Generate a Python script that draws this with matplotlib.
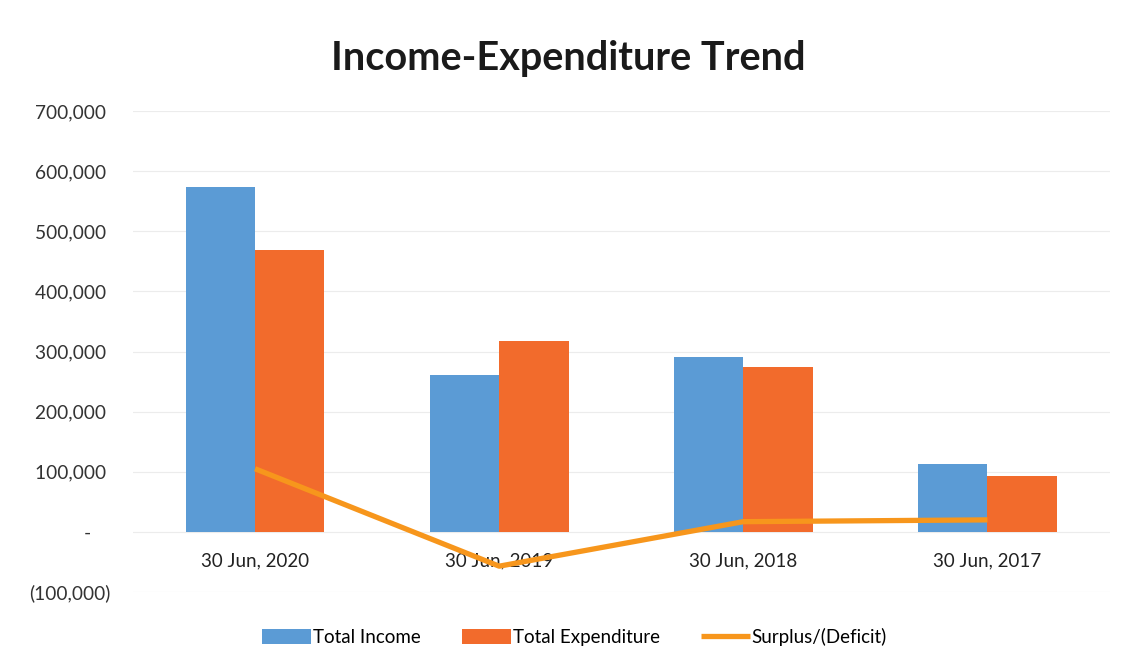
import numpy as np
import matplotlib.pyplot as plt
from matplotlib.ticker import FuncFormatter, MultipleLocator

periods = ["30 Jun, 2020", "30 Jun, 2019", "30 Jun, 2018", "30 Jun, 2017"]
income = [574000, 261000, 291000, 113000]
expenditure = [469000, 318000, 274000, 93000]
surplus = [105000, -57000, 17000, 20000]

plt.rcParams['font.family'] = ['Lato', 'DejaVu Sans']

fig = plt.figure(figsize=(11.31, 6.67), dpi=100)
ax = fig.add_axes([0.1176, 0.1124, 0.8634, 0.7212])

x = np.arange(len(periods))
w = 0.284
b1 = ax.bar(x - w / 2, income, w, color="#5B9BD5", label="Total Income", zorder=2)
b2 = ax.bar(x + w / 2, expenditure, w, color="#F26B2C", label="Total Expenditure", zorder=2)
ln, = ax.plot(x, surplus, color="#F7961C", lw=3.8, label="Surplus/(Deficit)", zorder=3,
              solid_capstyle="butt")

ax.set_xlim(-0.5, len(periods) - 0.5)
ax.set_ylim(-100000, 700000)
ax.yaxis.set_major_locator(MultipleLocator(100000))


def acct(v, pos):
    if v == 0:
        return "-    "
    if v < 0:
        return "({:,.0f})".format(-v)
    return "{:,.0f} ".format(v)


ax.yaxis.set_major_formatter(FuncFormatter(acct))
ax.grid(axis="y", color="#ececec", lw=0.8, zorder=0)
ax.set_axisbelow(True)

# category labels sit on the zero line
ax.spines['bottom'].set_position(('data', 0))
for s in ax.spines.values():
    s.set_visible(False)
ax.set_xticks(x)
ax.set_xticklabels(periods)
ax.tick_params(axis="x", length=0, pad=15, labelsize=13.5, colors="#222222")
ax.tick_params(axis="y", length=0, pad=16, labelsize=13.8, colors="#333333")

fig.suptitle("Income-Expenditure Trend", x=0.502, y=0.94, fontsize=28.5,
             fontweight="bold", color="#1a1a1a")

fig.legend(handles=[b1, b2, ln], loc="center", bbox_to_anchor=(0.508, 0.045),
           ncol=3, frameon=False, fontsize=13.5, handlelength=2.6,
           handleheight=0.9, columnspacing=2.2, handletextpad=0.1)

fig.savefig("out.png", dpi=100, facecolor="white")
